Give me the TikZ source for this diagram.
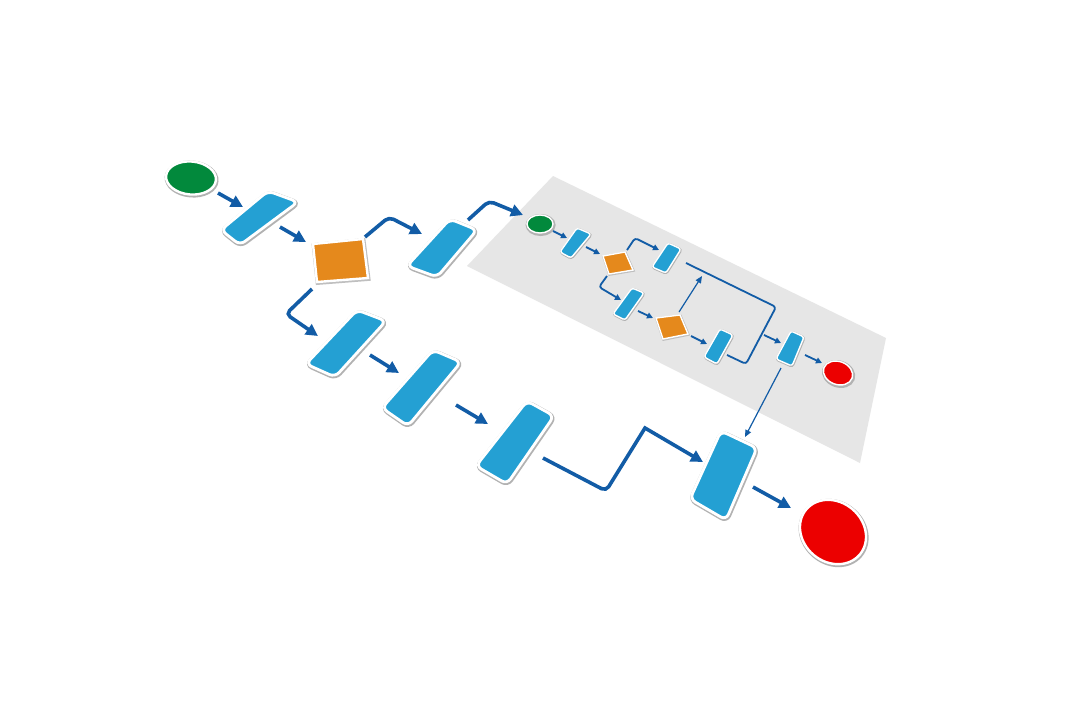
\documentclass[tikz,border=0pt]{standalone}
\usetikzlibrary{arrows.meta,shapes.geometric}

\definecolor{taskblue}{RGB}{36,160,211}
\definecolor{flowblue}{RGB}{18,92,166}
\definecolor{choiceorange}{RGB}{229,137,28}
\definecolor{startgreen}{RGB}{2,137,60}
\definecolor{stopred}{RGB}{236,0,0}
\definecolor{panelgray}{RGB}{230,230,230}

\begin{document}
\begin{tikzpicture}[x=1pt, y=-1pt,
    task/.style={fill=taskblue, draw=white, line width=2.8pt, rounded corners=6pt,
      preaction={draw=black!30, line width=4.4pt, transform canvas={shift={(0.6pt,-1pt)}}}},
    subtask/.style={fill=taskblue, draw=white, line width=1.4pt, rounded corners=2.5pt,
      preaction={draw=black!30, line width=2.4pt, transform canvas={shift={(0.4pt,-0.6pt)}}}},
    choice/.style={fill=choiceorange, draw=white, line width=2.4pt,
      preaction={draw=black!25, line width=3.8pt, transform canvas={shift={(0.6pt,-1pt)}}}},
    subchoice/.style={fill=choiceorange, draw=white, line width=1.4pt,
      preaction={draw=black!25, line width=2.4pt, transform canvas={shift={(0.4pt,-0.6pt)}}}},
    disc/.style={ellipse, draw=white, line width=2.4pt, inner sep=0pt,
      preaction={draw=black!30, line width=4pt, transform canvas={shift={(0.6pt,-1pt)}}}},
    flow/.style={draw=flowblue, line width=3.6pt, rounded corners=5pt, -{Triangle[length=12pt,width=12pt]}},
    subflow/.style={draw=flowblue, line width=1.8pt, rounded corners=3pt, -{Triangle[length=6pt,width=6pt]}},
    link/.style={draw=flowblue, line width=1.2pt, -{Triangle[length=7pt,width=6pt]}}
  ]

  \fill[white] (0,0) rectangle (1080,721);

  % sub process sheet
  \fill[panelgray] (553,176) -- (886,338) -- (860,463) -- (467,266) -- cycle;

  % main flow shapes
  \node[disc, fill=startgreen, minimum width=50pt, minimum height=33pt, rotate=-5] (start) at (191,178) {};
  \path[task] (268,191) -- (298,202) -- (240,245) -- (221,230) -- cycle;
  \path[choice] (313,244) -- (363,239) -- (368,278) -- (317,282) -- cycle;
  \path[task] (450,219) -- (477,230) -- (437,277) -- (407,266) -- cycle;
  \path[task] (357,310) -- (386,321) -- (335,377) -- (306,364) -- cycle;
  \path[task] (433,350) -- (461,362) -- (408,426) -- (382,408) -- cycle;
  \path[task] (527,401) -- (554,416) -- (507,484) -- (476,466) -- cycle;
  \path[task] (721,431) -- (757,448) -- (726,520) -- (690,499) -- cycle;
  \node[disc, fill=stopred, minimum width=70pt, minimum height=60pt, rotate=-40] (stop) at (833,532) {};

  % sub flow shapes
  \node[disc, fill=startgreen, line width=1.4pt, minimum width=26pt, minimum height=18pt] (substart) at (540,224) {};
  \path[subtask] (577,228) -- (591,234) -- (571,258) -- (560,252) -- cycle;
  \path[subchoice] (603,256) -- (625,252) -- (633,270) -- (609,274) -- cycle;
  \path[subtask] (668,243) -- (681,249) -- (666,273) -- (652,267) -- cycle;
  \path[subtask] (632,288) -- (644,293) -- (625,320) -- (613,314) -- cycle;
  \path[subchoice] (656,318) -- (680,315) -- (688,334) -- (663,339) -- cycle;
  \path[subtask] (720,329) -- (733,335) -- (717,364) -- (704,357) -- cycle;
  \path[subtask] (791,331) -- (804,337) -- (792,366) -- (776,359) -- cycle;
  \node[disc, fill=stopred, line width=1.4pt, minimum width=30pt, minimum height=23pt, rotate=-20] (substop) at (838,373) {};

  % connector ends
  \coordinate (m1a) at (218,193); \coordinate (m1b) at (243,207);
  \coordinate (m2a) at (280,227); \coordinate (m2b) at (306,242);
  \coordinate (m3a) at (365,237); \coordinate (m3k) at (389,217); \coordinate (m3b) at (422,234);
  \coordinate (m4a) at (468,220); \coordinate (m4k) at (489,201); \coordinate (m4b) at (523,215);
  \coordinate (m5a) at (312,289); \coordinate (m5k) at (286,314); \coordinate (m5b) at (318,336);
  \coordinate (m6a) at (370,355); \coordinate (m6b) at (399,373);
  \coordinate (m7a) at (456,405); \coordinate (m7b) at (488,424);
  \coordinate (m8a) at (543,458); \coordinate (m8k) at (606,491); \coordinate (m8l) at (645,428); \coordinate (m8b) at (703,462);
  \coordinate (m9a) at (753,487); \coordinate (m9b) at (791,508);

  \coordinate (s1a) at (553,231); \coordinate (s1b) at (567,238);
  \coordinate (s2a) at (586,247); \coordinate (s2b) at (600,254);
  \coordinate (s3a) at (627,250); \coordinate (s3k) at (635,238); \coordinate (s3b) at (659,250);
  \coordinate (s4a) at (607,276); \coordinate (s4k) at (599,287); \coordinate (s4b) at (621,300);
  \coordinate (s5a) at (638,311); \coordinate (s5b) at (653,318);
  \coordinate (s6a) at (691,336); \coordinate (s6b) at (707,344);
  \coordinate (s7a) at (679,312); \coordinate (s7b) at (702,276);
  \coordinate (s8a) at (727,355); \coordinate (s8k) at (746,364); \coordinate (s8l) at (776,307); \coordinate (s8b) at (686,263);
  \coordinate (s9a) at (764,335); \coordinate (s9b) at (781,343);
  \coordinate (s10a) at (805,355); \coordinate (s10b) at (822,363);
  \coordinate (s11a) at (781,368); \coordinate (s11b) at (745,437);

  % main connectors
  \draw[flow] (m1a) -- (m1b);
  \draw[flow] (m2a) -- (m2b);
  \draw[flow] (m3a) -- (m3k) -- (m3b);
  \draw[flow] (m4a) -- (m4k) -- (m4b);
  \draw[flow] (m5a) -- (m5k) -- (m5b);
  \draw[flow] (m6a) -- (m6b);
  \draw[flow] (m7a) -- (m7b);
  \draw[flow] (m8a) -- (m8k) [sharp corners] -- (m8l) -- (m8b);
  \draw[flow] (m9a) -- (m9b);

  % sub connectors
  \draw[subflow] (s1a) -- (s1b);
  \draw[subflow] (s2a) -- (s2b);
  \draw[subflow] (s3a) -- (s3k) -- (s3b);
  \draw[subflow] (s4a) -- (s4k) -- (s4b);
  \draw[subflow] (s5a) -- (s5b);
  \draw[subflow] (s6a) -- (s6b);
  \draw[link] (s7a) -- (s7b);
  \draw[subflow, -] (s8a) -- (s8k) -- (s8l) -- (s8b);
  \draw[subflow] (s9a) -- (s9b);
  \draw[subflow] (s10a) -- (s10b);
  \draw[link] (s11a) -- (s11b);

\end{tikzpicture}
\end{document}
